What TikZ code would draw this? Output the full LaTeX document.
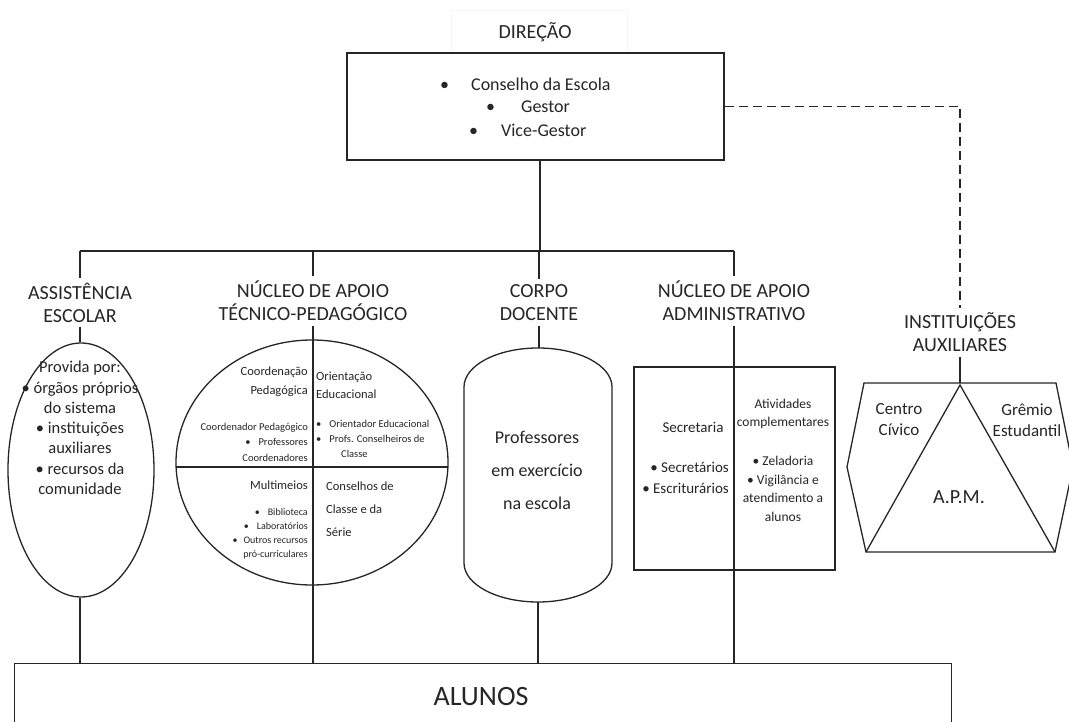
\documentclass[tikz,border=0pt]{standalone}
\usepackage{fontspec}
\setmainfont{Carlito}
\usetikzlibrary{shapes.geometric}
\newcommand{\myfs}[2]{\fontsize{#1}{#2}\selectfont}
\begin{document}
\begin{tikzpicture}[x=1pt,y=-1pt,
  conn/.style={draw=black!85, line width=1.3pt},
  shp/.style={draw=black!85, line width=1.3pt, inner sep=0pt},
  heading/.style={font=\myfs{20}{23}, align=center, inner xsep=0pt, inner ysep=5pt, text=black!85},
  txt/.style={inner sep=0pt, text=black!85},
  dashconn/.style={conn, dash pattern=on 9pt off 5pt}]
\useasboundingbox (0,0) rectangle (1069,722);
\fill[white] (0,0) rectangle (1069,722);

% Direcao
\draw[black!4, line width=0.8pt] (451,10) rectangle (627,53);
\node[txt, font=\myfs{20}{23}] (dirlbl) at (535,32) {DIREÇÃO};
\node[shp, minimum width=377pt, minimum height=107pt] (dir) at (535.5,106.5) {};
\node[txt, anchor=west, font=\myfs{18}{22}] (d1) at (440,84) {\textbullet\hspace{22pt}Conselho da Escola};
\node[txt, anchor=west, font=\myfs{18}{22}] (d2) at (486,107) {\textbullet\hspace{26pt}Gestor};
\node[txt, anchor=west, font=\myfs{18}{22}] (d3) at (469,130) {\textbullet\hspace{23pt}Vice-Gestor};

% headings
\coordinate (bus) at (540,251);
\node[heading] (hA) at (80,302.5) {ASSISTÊNCIA\\ESCOLAR};
\node[heading] (hT) at (313,301) {NÚCLEO DE APOIO\\TÉCNICO-PEDAGÓGICO};
\node[heading] (hC) at (539,302.5) {CORPO\\DOCENTE};
\node[heading] (hN) at (734,301) {NÚCLEO DE APOIO\\ADMINISTRATIVO};
\node[heading] (hI) at (960,332.5) {INSTITUIÇÕES\\AUXILIARES};

\draw[conn] (dir.south -| bus) -- (bus);
\draw[conn] (hA.north |- bus) -- (hN.north |- bus);
\draw[conn] (hA.north |- bus) -- (hA.north);
\draw[conn] (hT.north |- bus) -- (hT.north);
\draw[conn] (hC.north |- bus) -- (hC.north);
\draw[conn] (hN.north |- bus) -- (hN.north);
\draw[dashconn] (dir.east) -| (hI.north);

% Alunos
\node[shp, minimum width=937pt, minimum height=100pt, anchor=north west] (alunos) at (14,663) {};
\node[txt, font=\myfs{28}{32}] (alunostxt) at (481,697) {ALUNOS};

% Assistencia escolar
\node[shp, ellipse, minimum width=146pt, minimum height=254pt] (ellA) at (81,470) {};
\node[txt, align=center, font=\myfs{16.5}{20.3}] (ellAtxt) at (80,428) {Provida por:\\\textbullet\ órgãos próprios\\do sistema\\\textbullet\ instituições\\auxiliares\\\textbullet\ recursos da\\comunidade};
\draw[conn] (hA.south) -- (hA.south |- ellA.north);
\draw[conn] (hA.south |- ellA.south) -- (hA.south |- alunos.north);

% Nucleo tecnico-pedagogico
\node[shp, ellipse, minimum width=272pt, minimum height=245pt] (ellT) at (312,462.5) {};
\draw[conn] (hT.south) -- (hT.south |- alunos.north);
\draw[conn] (176.3,467) -- (447.7,467);
\node[txt, anchor=east, align=right, font=\myfs{12.5}{19}] (t1) at (308,382) {Coordenação\\Pedagógica};
\node[txt, anchor=east, align=right, font=\myfs{10.5}{15.5}] (t2) at (308,442) {Coordenador Pedagógico\\\textbullet\hspace{8pt}Professores\\Coordenadores};
\node[txt, anchor=east, align=right, font=\myfs{12.5}{19}] (t3) at (308,485) {Multimeios};
\node[txt, anchor=east, align=right, font=\myfs{10}{14}] (t4) at (308,534) {\textbullet\hspace{8pt}Biblioteca\\\textbullet\hspace{8pt}Laboratórios\\\textbullet\hspace{6pt}Outros recursos\\pró-curriculares};
\node[txt, anchor=west, align=left, font=\myfs{12.5}{18}] (t5) at (316,385) {Orientação\\Educacional};
\node[txt, anchor=west, align=left, font=\myfs{10.5}{15}] (t6) at (316,439) {\textbullet\hspace{8pt}Orientador Educacional\\\textbullet\hspace{8pt}Profs. Conselheiros de\\\hspace{25pt}Classe};
\node[txt, anchor=west, align=left, font=\myfs{12.5}{23}] (t7) at (326,509) {Conselhos de\\Classe e da\\Série};

% Corpo docente capsule
\draw[shp] (464,563) -- (464,387) arc[start angle=180, end angle=0, x radius=74pt, y radius=39pt] -- (612,563) arc[start angle=0, end angle=-180, x radius=74pt, y radius=39pt] -- cycle;
\coordinate (captop) at (538,348);
\coordinate (capbot) at (538,602);
\node[txt, align=center, font=\myfs{18}{33}] (captxt) at (537,470) {Professores\\em exercício\\na escola};
\draw[conn] (hC.south) -- (hC.south |- captop);
\draw[conn] (capbot) -- (capbot |- alunos.north);

% Nucleo administrativo
\node[shp, minimum width=201pt, minimum height=203pt] (adm) at (734.5,468.5) {};
\draw[conn] (hN.south) -- (hN.south |- alunos.north);
\node[txt, font=\myfs{15}{20}] (a1) at (693,427) {Secretaria};
\node[txt, anchor=east, align=right, font=\myfs{15}{21}] (a2) at (729,477.5) {\textbullet\ Secretários\\\textbullet\ Escriturários};
\node[txt, align=center, font=\myfs{13.5}{18.5}] (a3) at (783,414) {Atividades\\complementares};
\node[txt, align=center, font=\myfs{13.5}{18.7}] (a4) at (783,489) {\textbullet\ Zeladoria\\\textbullet\ Vigilância e\\atendimento a\\alunos};

% Instituicoes auxiliares
\coordinate (hextop) at (960,383);
\draw[shp] (864,383) -- (1056,383) -- (1073,467) -- (1055,552) -- (866,552) -- (847,467) -- cycle;
\draw[shp] (866,552) -- (960,385) -- (1055,552);
\draw[conn] (hI.south) -- (hextop);
\node[txt, align=center, font=\myfs{17}{21}] (i1) at (899,420) {Centro\\Cívico};
\node[txt, align=center, font=\myfs{17}{21}] (i2) at (1027,420) {Grêmio\\Estudantil};
\node[txt, font=\myfs{20}{24}] (i3) at (959,497) {A.P.M.};
\end{tikzpicture}
\end{document}
